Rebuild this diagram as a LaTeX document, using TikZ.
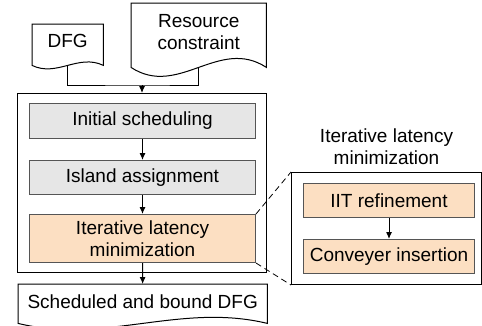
\documentclass[tikz,border=0pt]{standalone}
\usepackage{fontspec}
\setmainfont{Liberation Sans}
\usetikzlibrary{arrows.meta,positioning,calc}

\definecolor{stepgray}{HTML}{E6E6E6}
\definecolor{steporange}{HTML}{FCDFC2}
\definecolor{stepline}{HTML}{555555}

% document outline: node name, wave amplitude
\newcommand{\docoutline}[2]{%
  \draw[line width=1pt] let \p1=(#1.south west), \p2=(#1.south east), \n1={\x2-\x1} in
    (#1.north west) -- (#1.north east) -- (\p2)
    .. controls (\x2-0.35*\n1,\y2+#2) and (\x1+0.35*\n1,\y1-#2) .. (\p1) -- cycle;
}

\tikzset{
  every node/.style={font=\fontsize{19}{22}\selectfont, inner sep=0pt},
  docnode/.style={anchor=north west, align=center},
  stepbox/.style={draw=stepline, line width=1pt, anchor=north west, align=center},
  framebox/.style={draw, line width=1pt, anchor=north west},
  flowarrow/.style={-{Latex[length=7pt,width=6pt]}, line width=1pt}
}

\begin{document}
\begin{tikzpicture}[x=1pt,y=-1pt]
  \useasboundingbox (0,0) rectangle (482,325);

  % inputs
  \node[docnode, minimum width=71, minimum height=41, text depth=7pt] (dfg) at (32,24) {DFG};
  \node[docnode, minimum width=135, minimum height=64, text depth=6pt] (res) at (131,3) {Resource\\constraint};
  \docoutline{dfg}{12pt}
  \docoutline{res}{31pt}

  % main flow
  \node[framebox, minimum width=249, minimum height=179] (flow) at (17,93) {};
  \node[stepbox, fill=stepgray, minimum width=226, minimum height=35] (init) at (29,103) {Initial scheduling};
  \node[stepbox, fill=stepgray, minimum width=226, minimum height=34] (island) at (29,160) {Island assignment};
  \node[stepbox, fill=steporange, minimum width=226, minimum height=48] (iter) at (29,214) {Iterative latency\\minimization};

  % output
  \node[docnode, minimum width=249, minimum height=39, text depth=5pt] (sched) at (18,284) {Scheduled and bound DFG};
  \docoutline{sched}{21pt}

  % detail panel
  \node[framebox, minimum width=190, minimum height=112] (panel) at (291,172) {};
  \node[align=center, above=7pt of panel] (sublabel) {Iterative latency\\minimization};
  \node[stepbox, fill=steporange, minimum width=171, minimum height=34] (iit) at (303,183) {IIT refinement};
  \node[stepbox, fill=steporange, minimum width=171, minimum height=34] (conv) at (303,239) {Conveyer insertion};

  % connectors
  \coordinate (join) at (142,85);
  \draw[line width=1pt] (dfg.south) |- (join) -| (res.south);
  \draw[flowarrow] (join) -- (join |- flow.north);
  \draw[flowarrow] (init) -- (island);
  \draw[flowarrow] (island) -- (iter);
  \draw[flowarrow] (iter) -- (sched);
  \draw[flowarrow] (iit) -- (conv);
  \draw[dashed, dash pattern=on 6pt off 4pt, line width=0.8pt] (iter.north east) -- (panel.north west);
  \draw[dashed, dash pattern=on 6pt off 4pt, line width=0.8pt] (iter.south east) -- (panel.south west);
\end{tikzpicture}
\end{document}
